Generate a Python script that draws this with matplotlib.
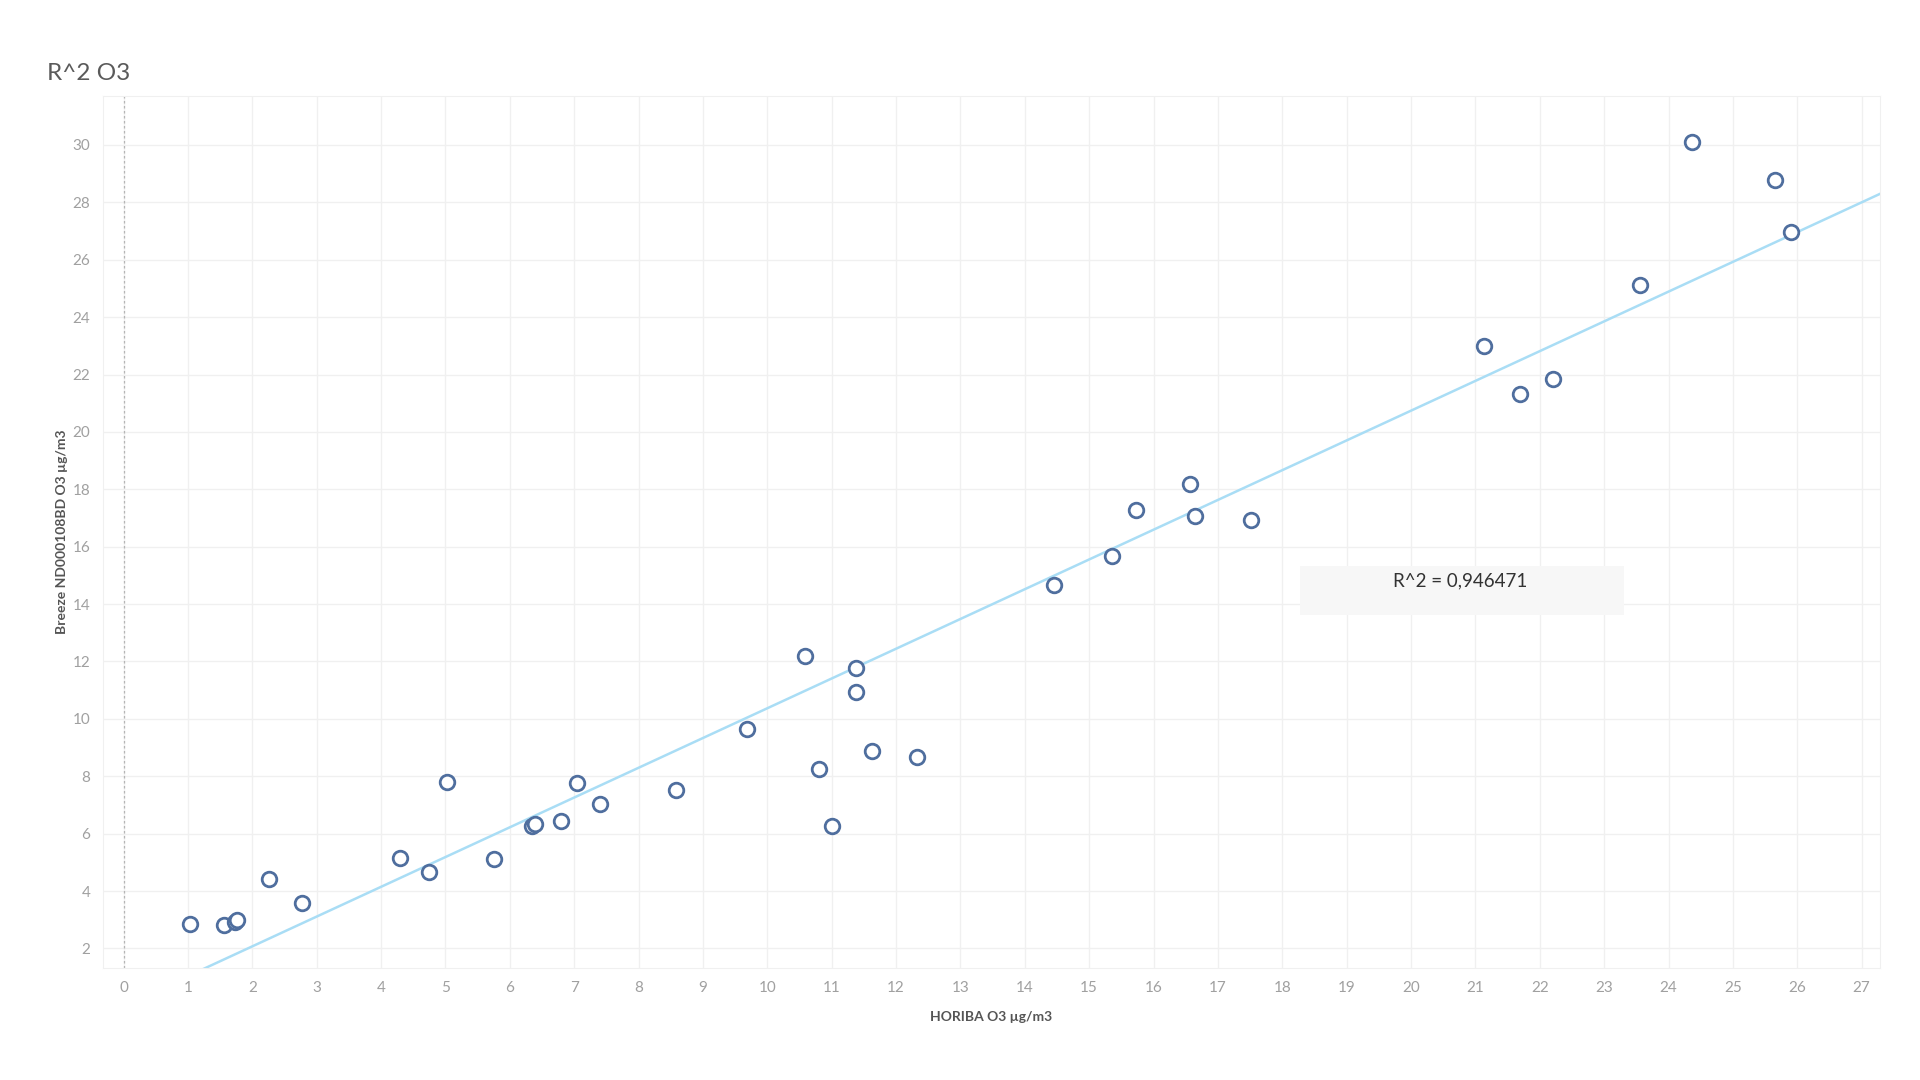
import numpy as np
from matplotlib import pyplot as plt
from matplotlib.patches import Rectangle

# HORIBA reference vs Breeze sensor, O3 in ug/m3
horiba_o3 = [1.03, 1.56, 1.73, 1.77, 2.26, 2.78, 4.30, 4.74, 5.02, 5.75,
             6.34, 6.39, 6.79, 7.04, 7.40, 8.58, 9.68, 10.58, 10.81, 11.00,
             11.38, 11.38, 11.62, 12.33, 14.46, 15.35, 15.73, 16.57, 16.65, 17.52,
             21.14, 21.69, 22.20, 23.55, 24.37, 25.65, 25.91]
breeze_o3 = [2.85, 2.81, 2.94, 2.98, 4.43, 3.58, 5.16, 4.65, 7.80, 5.12,
             6.27, 6.35, 6.44, 7.76, 7.04, 7.51, 9.64, 12.20, 8.27, 6.27,
             11.77, 10.92, 8.87, 8.66, 14.68, 15.66, 17.28, 18.18, 17.07, 16.94,
             23.00, 21.33, 21.85, 25.13, 30.09, 28.76, 26.97]

trend_slope = 1.037
trend_intercept = 0.0
r2_label = "R^2 = 0,946471"

x_ticks = list(range(0, 28))
y_ticks = list(range(2, 31, 2))

fig = plt.figure(figsize=(19.2, 10.8), dpi=100)
ax = fig.add_axes([0.0536, 0.1037, 0.9254, 0.8073])

ax.set_xlim(-0.32, 27.28)
ax.set_ylim(1.32, 31.7)

ax.set_xticks(x_ticks)
ax.set_yticks(y_ticks)
ax.grid(True, color="#f0f0f0", linewidth=1.0)
ax.set_axisbelow(True)
for s in ax.spines.values():
    s.set_color("#f0f0f0")
ax.tick_params(length=0, labelsize=11, labelcolor="#a0a0a0", pad=9)
for lab in ax.get_xticklabels() + ax.get_yticklabels():
    lab.set_family("Lato")

# zero line
ax.axvline(0, color="#b5b5b5", linestyle=(0, (2, 2)), linewidth=0.9, zorder=1)

# trend line
xl = np.array(ax.get_xlim())
ax.plot(xl, trend_slope * xl + trend_intercept, color="#a9ddf5", linewidth=1.8, zorder=2)

ax.plot(horiba_o3, breeze_o3, linestyle="none", marker="o", markersize=10.5,
        markerfacecolor="white", markeredgecolor="#4f6e9e", markeredgewidth=2.0, zorder=3)

ax.set_xlabel("HORIBA O3 µg/m3", fontsize=10, color="#555555", fontweight="bold",
              family="Lato", labelpad=12)
ax.set_ylabel("Breeze ND000108BD O3 µg/m3", fontsize=10, color="#555555",
              fontweight="bold", family="Lato", labelpad=3)

# R^2 annotation box
fig.patches.append(Rectangle((1300 / 1920, 1 - 615 / 1080), 324 / 1920, 49 / 1080,
                             transform=fig.transFigure, facecolor="#f7f7f7",
                             edgecolor="none", zorder=5))
fig.text(1460 / 1920, 1 - 581 / 1080, r2_label, fontsize=13.5, color="#333333",
         family="Lato", ha="center", va="center", zorder=6)

fig.text(47 / 1920, 1 - 74 / 1080, "R^2 O3", fontsize=17.5, color="#5a5a5a",
         family="Lato", ha="left", va="center")

fig.savefig("out.png", dpi=100, facecolor="white")
